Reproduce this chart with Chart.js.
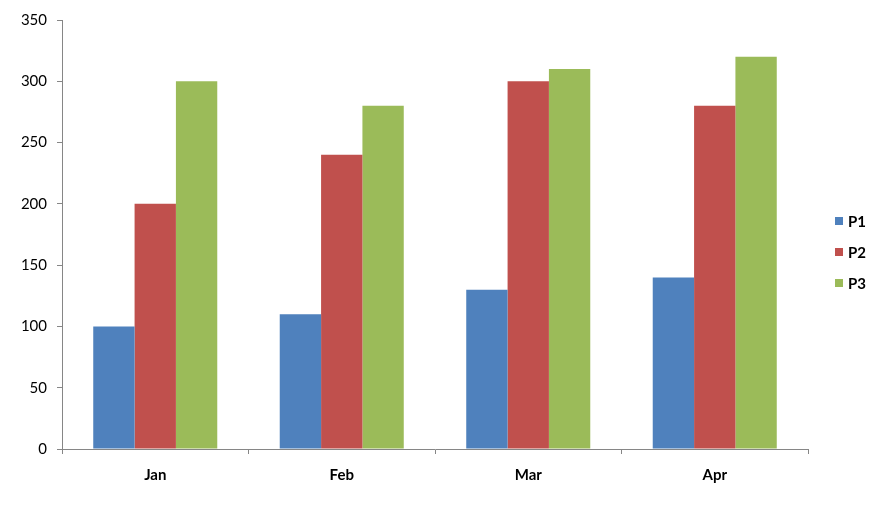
<!DOCTYPE html>
<html><head><meta charset="utf-8">
<script src="https://cdn.jsdelivr.net/npm/chart.js@4/dist/chart.umd.min.js"></script>
<style>html,body{margin:0;padding:0;background:#fff}canvas{display:block}</style>
</head><body>
<canvas id="c" width="884" height="505"></canvas>
<script>
const categories = ["Jan", "Feb", "Mar", "Apr"];
const seriesNames = ["P1", "P2", "P3"];
const p1 = [100, 110, 130, 140];
const p2 = [200, 240, 300, 280];
const p3 = [300, 280, 310, 320];
const colors = ["#4F81BD", "#C0504D", "#9BBB59"];
const yMin = 0, yMax = 350, yStep = 50;

const legendPlugin = {
  id: 'customLegend',
  afterDraw(chart) {
    const ctx = chart.ctx;
    ctx.save();
    ctx.font = 'bold 15px Lato';
    ctx.textBaseline = 'middle';
    ctx.fillStyle = '#000';
    chart.data.datasets.forEach((ds, i) => {
      const y = 221 + i * 31;
      ctx.fillStyle = ds.backgroundColor;
      ctx.fillRect(835, y - 4, 8, 8);
      ctx.fillStyle = '#000';
      ctx.fillText(ds.label, 848, y + 1);
    });
    ctx.restore();
  }
};

new Chart(document.getElementById('c'), {
  type: 'bar',
  data: {
    labels: categories,
    datasets: [
      { label: seriesNames[0], data: p1, backgroundColor: colors[0] },
      { label: seriesNames[1], data: p2, backgroundColor: colors[1] },
      { label: seriesNames[2], data: p3, backgroundColor: colors[2] }
    ]
  },
  options: {
    responsive: false,
    animation: false,
    layout: { padding: { left: 0, right: 76, top: 20, bottom: 0 } },
    datasets: { bar: { barPercentage: 1, categoryPercentage: 0.665 } },
    plugins: { legend: { display: false }, tooltip: { enabled: false } },
    scales: {
      x: {
        offset: true,
        grid: { offset: true, drawOnChartArea: false, drawTicks: true, tickLength: 5, color: '#868686' },
        border: { color: '#868686', width: 1 },
        ticks: { color: '#000', font: { family: 'Lato', size: 15, weight: 'bold' }, padding: 12 },
        afterFit(s) { s.height = 56; }
      },
      y: {
        min: yMin, max: yMax,
        grid: { drawOnChartArea: false, drawTicks: true, tickLength: 5, color: '#868686' },
        border: { color: '#868686', width: 1 },
        ticks: { stepSize: yStep, color: '#000', font: { family: 'Lato', size: 15 }, padding: 10 },
        afterFit(s) { s.width = 62; }
      }
    }
  },
  plugins: [legendPlugin]
});
</script>
</body></html>
